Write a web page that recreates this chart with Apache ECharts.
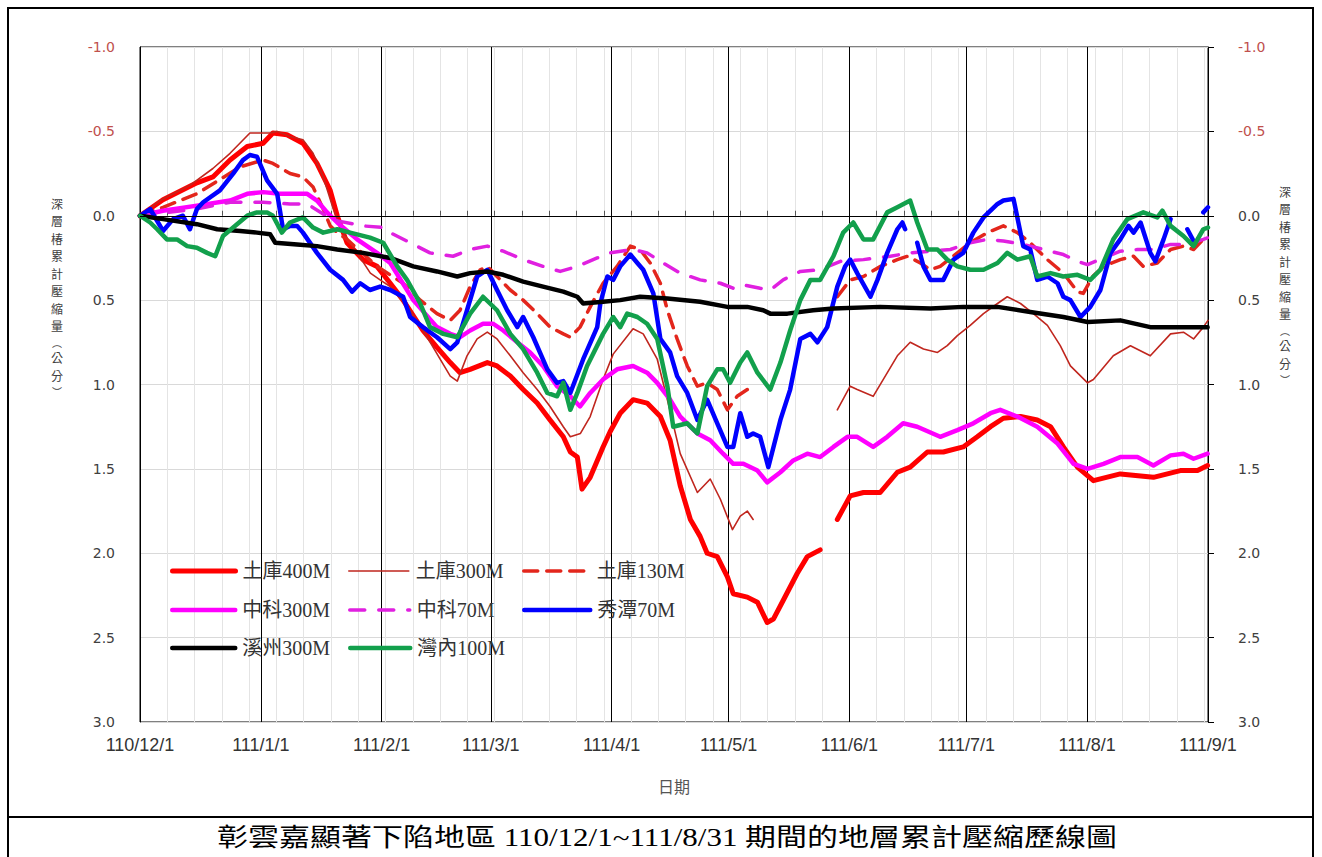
<!DOCTYPE html>
<html><head><meta charset="utf-8">
<script src="https://cdn.jsdelivr.net/npm/echarts@6/dist/echarts.min.js"></script>
<style>html,body{margin:0;padding:0;background:#fff}#c{width:1322px;height:857px}</style>
</head><body><div id="c"></div>
<script>
// ---------- DATA (day offset from 110/12/1 , compression cm; null = gap) ----------
const xTickLabels = ['110/12/1','111/1/1','111/2/1','111/3/1','111/4/1','111/5/1','111/6/1','111/7/1','111/8/1','111/9/1'];
const seriesNames = ['土庫400M','土庫300M','土庫130M','中科300M','中科70M','秀潭70M','溪州300M','灣內100M'];

const tuku400 = [[0,0],[5.9,-0.095],[14.6,-0.195],[18.7,-0.23],[23.1,-0.33],[27.5,-0.41],[31.6,-0.43],[34.1,-0.49],[37.7,-0.48],[41.8,-0.43],[45.4,-0.31],[48.8,-0.15],[50.6,0],[53.1,0.16],[57.2,0.26],[60.8,0.3],[64.2,0.4],[67.5,0.5],[72.6,0.68],[76.2,0.78],[79.6,0.87],[82.1,0.93],[84.7,0.91],[89.1,0.87],[91.6,0.89],[95,0.95],[98.3,1.03],[101.9,1.11],[105.2,1.21],[108.6,1.31],[110.4,1.4],[112.2,1.43],[113.4,1.62],[115.5,1.55],[118.8,1.37],[120.6,1.28],[123.2,1.17],[126.5,1.09],[130.1,1.11],[133.5,1.19],[136,1.33],[138.6,1.6],[141.2,1.8],[143.7,1.9],[145.5,2.0],[148.1,2.02],[150.7,2.14],[152.2,2.24],[155.8,2.26],[158.4,2.29],[160.9,2.41],[162.5,2.39],[165,2.28],[168.6,2.12],[171.2,2.02],[174.5,1.98],[176,null],[178.9,1.8],[182.2,1.66],[185.6,1.64],[189.9,1.64],[194.3,1.52],[197.6,1.49],[202,1.4],[206.1,1.4],[211.2,1.37],[214.8,1.31],[218.2,1.25],[221.5,1.2],[225.9,1.19],[230.2,1.21],[233.6,1.25],[236.9,1.37],[240.5,1.49],[244.6,1.57],[251.5,1.53],[260,1.55],[266.9,1.51],[271.3,1.51],[273.9,1.48]];

const tuku300 = [[0,0],[5.1,-0.09],[12.8,-0.18],[18.7,-0.28],[23.1,-0.37],[28.2,-0.49],[33.4,-0.49],[35.2,-0.5],[38.5,-0.47],[41.8,-0.45],[44.4,-0.37],[47,-0.23],[49.6,-0.04],[52.1,0.1],[55.7,0.22],[59.1,0.34],[61.6,0.38],[64.2,0.42],[69.3,0.56],[73.7,0.72],[77,0.85],[79.6,0.95],[81.4,0.98],[83.9,0.83],[86.5,0.73],[89.1,0.69],[91.6,0.73],[95,0.83],[98.3,0.93],[101.9,1.03],[105.2,1.13],[108.6,1.25],[110.4,1.31],[113,1.29],[115.5,1.19],[118.8,0.97],[121.4,0.82],[126.5,0.67],[129.1,0.7],[132.7,0.85],[135.3,1.09],[138.6,1.41],[143,1.64],[146.3,1.56],[148.9,1.68],[152,1.86],[154,1.78],[155.8,1.75],[157.3,1.8],[168,null],[178.9,1.15],[182.2,1.01],[184,1.03],[188.1,1.07],[190.7,0.97],[194.3,0.83],[197.6,0.75],[201,0.79],[204.6,0.81],[207.1,0.77],[209.7,0.71],[213,0.65],[216.4,0.58],[220,0.52],[222.5,0.48],[225.9,0.52],[229.2,0.58],[232.8,0.65],[236.1,0.77],[238.7,0.89],[243.1,0.99],[244.6,0.97],[249.7,0.83],[254.1,0.77],[259.2,0.83],[264.4,0.7],[267.7,0.69],[270.3,0.73],[272.8,0.66],[274,0.62]];

const tuku130 = [[0,0],[5.9,-0.05],[14.6,-0.13],[25.7,-0.29],[31.6,-0.33],[34.1,-0.31],[38.5,-0.25],[41.8,-0.23],[44.4,-0.17],[47,-0.04],[48.8,0.06],[50.6,0.1],[53.1,0.14],[60.8,0.3],[67.5,0.4],[71.9,0.5],[76.2,0.58],[79.6,0.62],[82.1,0.56],[84.7,0.42],[87.3,0.32],[89.1,0.3],[91.6,0.36],[95,0.44],[98.3,0.5],[101.9,0.58],[105.2,0.66],[108.6,0.7],[110.4,0.72],[112.9,0.66],[115.5,0.54],[118.8,0.4],[122.4,0.3],[125.8,0.18],[128.3,0.2],[130.9,0.28],[133.5,0.4],[135.3,0.56],[137.8,0.73],[140.4,0.89],[143,1.01],[145.5,0.99],[148.1,1.03],[150.7,1.15],[153.2,1.07],[155.8,1.03],[167,null],[178.9,0.48],[182.2,0.38],[185.6,0.36],[190,0.3],[194.3,0.26],[196.9,0.24],[200.2,0.28],[202.8,0.32],[205.3,0.3],[209.7,0.22],[213,0.16],[217.4,0.1],[221.5,0.06],[225.1,0.1],[228.4,0.16],[232.8,0.26],[236.9,0.34],[240.5,0.45],[242,0.46],[244.4,0.36],[247.2,0.3],[251.5,0.26],[254.9,0.24],[257.4,0.3],[261,0.28],[264.4,0.2],[267.7,0.18],[270.3,0.2],[273.6,0.12]];

const kexue300 = [[0,0],[5.9,-0.03],[14.6,-0.06],[23.1,-0.09],[27.5,-0.13],[31.6,-0.14],[35.9,-0.13],[42.9,-0.13],[45.4,-0.09],[48,-0.02],[50.6,0.04],[55.7,0.14],[60.8,0.22],[64.2,0.28],[70.1,0.5],[76.2,0.66],[79.6,0.7],[82.1,0.72],[84.7,0.68],[88,0.64],[90.6,0.64],[93.2,0.68],[96.8,0.75],[100.1,0.81],[103.4,0.89],[107,1.01],[110.4,1.07],[112.9,1.13],[115.5,1.05],[118.8,0.97],[122.4,0.91],[126.5,0.89],[130.1,0.93],[132.7,0.99],[136,1.09],[138.6,1.19],[143,1.29],[146.3,1.33],[149.6,1.41],[152.2,1.47],[154.8,1.47],[158.4,1.51],[160.9,1.58],[164.3,1.52],[167.6,1.45],[171.2,1.41],[174.5,1.43],[177.9,1.37],[181.5,1.31],[184,1.31],[188.1,1.37],[191.7,1.31],[195.8,1.23],[199.4,1.25],[205.3,1.31],[209.7,1.27],[213.8,1.23],[218.2,1.17],[220.7,1.15],[225.1,1.19],[230.2,1.25],[235.4,1.35],[239.5,1.47],[243.1,1.5],[247.2,1.47],[251.5,1.43],[255.9,1.43],[260,1.48],[264.4,1.42],[267.7,1.41],[270.3,1.44],[273.9,1.41]];

const kexue70 = [[0,0],[14.6,-0.04],[23.1,-0.08],[31.6,-0.08],[38.5,-0.07],[42.9,-0.07],[47,-0.01],[50.6,0.03],[57.2,0.06],[62.4,0.07],[64.2,0.1],[69.3,0.16],[74.4,0.22],[80.3,0.24],[84.7,0.2],[89.1,0.18],[93.2,0.21],[98.3,0.26],[103.4,0.3],[107.8,0.33],[112.2,0.3],[117.3,0.25],[120.6,0.22],[126.5,0.2],[130.1,0.22],[133.5,0.27],[138.6,0.34],[143.7,0.38],[148.9,0.4],[152.2,0.43],[154.8,0.41],[159.1,0.43],[161.7,0.44],[165,0.38],[169.4,0.33],[174.5,0.32],[179.7,0.27],[185.6,0.26],[192.5,0.24],[197.6,0.22],[202.8,0.21],[207.9,0.2],[213,0.16],[217.4,0.14],[221.5,0.15],[226.6,0.17],[231.8,0.2],[236.9,0.23],[240.5,0.27],[243.1,0.29],[247.2,0.25],[251.5,0.21],[255.9,0.2],[260,0.2],[264.4,0.17],[268.7,0.17],[272.8,0.14],[274,0.13]];

const xiutan70 = [[0,0],[2.6,-0.04],[5.9,0.09],[8.5,0.02],[11,0],[12.8,0.08],[14.6,-0.04],[16.2,-0.08],[20.5,-0.15],[23.9,-0.25],[26.4,-0.33],[28.2,-0.36],[30,-0.35],[32.6,-0.21],[35.2,-0.13],[36.7,0.08],[38.5,0.06],[40.3,0.06],[41.8,0.1],[45.4,0.22],[48.8,0.32],[52.1,0.38],[54.4,0.45],[56.5,0.4],[59,0.44],[61.6,0.42],[64.2,0.44],[67.5,0.48],[69.3,0.6],[72.6,0.66],[76.2,0.72],[79.6,0.79],[81.4,0.75],[83.9,0.56],[86.5,0.36],[89.1,0.32],[91.6,0.44],[94.2,0.56],[96.8,0.66],[98.3,0.6],[100.9,0.72],[104.5,0.91],[107,0.99],[108.6,0.98],[110.4,1.05],[113.7,0.85],[117.3,0.66],[118.1,0.52],[119.9,0.36],[121.4,0.38],[123.2,0.3],[125.8,0.23],[127.6,0.28],[129.1,0.32],[131.7,0.46],[133.5,0.73],[136,0.81],[137.8,0.95],[140.4,1.05],[143,1.21],[145.5,1.09],[148.1,1.23],[150.7,1.37],[152.2,1.37],[154,1.17],[155.8,1.31],[157.3,1.29],[159.1,1.31],[161.2,1.49],[164.3,1.21],[166.8,1.03],[169.4,0.73],[172,0.7],[173.8,0.75],[176.3,0.66],[178.9,0.42],[180.9,0.3],[182.2,0.26],[184,0.34],[187.4,0.48],[189.2,0.38],[191.7,0.22],[194.3,0.08],[195.6,0.04],[196.3,0.08],[198,null],[199.4,0.16],[201,0.3],[202.8,0.38],[206.1,0.38],[208.7,0.26],[211.2,0.22],[213.8,0.1],[216.4,0.01],[220,-0.07],[221.5,-0.09],[224.1,-0.1],[226.6,0.18],[228.4,0.2],[230.2,0.38],[232.8,0.36],[235.4,0.4],[236.9,0.48],[238.7,0.5],[241.3,0.6],[243.8,0.54],[246.4,0.44],[249,0.22],[251.5,0.14],[253.6,0.06],[254.9,0.1],[256.7,0.04],[259.2,0.22],[260.5,0.27],[262.6,0.14],[264.4,0.02],[266,null],[268.7,0.08],[270.3,0.15],[271.5,null],[272.8,-0.02],[274,-0.05]];

const xizhou300 = [[0,0],[5.9,0.02],[14.6,0.05],[19.8,0.08],[25.7,0.09],[30,0.1],[33.4,0.11],[34.7,0.16],[40.3,0.17],[45.4,0.18],[50.6,0.2],[57.2,0.22],[64.2,0.25],[70.1,0.3],[76.2,0.33],[81.4,0.36],[84.7,0.34],[89.1,0.33],[93.2,0.35],[98.3,0.39],[103.4,0.42],[108.6,0.45],[112.2,0.48],[113.7,0.52],[118.8,0.51],[123.2,0.5],[128.3,0.48],[135.3,0.49],[143.7,0.51],[150.7,0.54],[155.8,0.54],[159.9,0.56],[161.7,0.58],[166.1,0.58],[172.7,0.56],[177.9,0.55],[189.9,0.54],[202.8,0.55],[211.2,0.54],[220,0.54],[228.4,0.57],[236.9,0.6],[243.1,0.63],[251.5,0.62],[259.2,0.66],[264.4,0.66],[273.9,0.66]];

const wannei100 = [[0,0],[2.6,0.04],[4.4,0.08],[6.9,0.14],[9.5,0.14],[12.1,0.18],[14.6,0.19],[17.2,0.22],[19.3,0.24],[21.3,0.12],[23.9,0.07],[27.5,0],[30,-0.02],[32.6,-0.02],[34.1,0],[36.4,0.1],[38.5,0.04],[41.8,0.01],[44.4,0.07],[47,0.1],[50.6,0.08],[53.9,0.1],[59,0.13],[62.4,0.16],[66,0.3],[68.5,0.38],[71.9,0.52],[74.4,0.66],[77.8,0.7],[81.4,0.72],[84.7,0.58],[88,0.48],[91.6,0.56],[95,0.7],[98.3,0.79],[101.9,0.93],[104.5,1.05],[107,1.07],[108.6,0.99],[110.4,1.15],[112.2,1.05],[114.7,0.89],[118.8,0.7],[121.4,0.6],[123.2,0.66],[125,0.58],[127.6,0.6],[130.1,0.64],[132.7,0.73],[135.3,1.01],[136.8,1.25],[140.4,1.23],[143,1.29],[145.5,1.01],[148.1,0.91],[149.6,0.91],[151.4,0.99],[154,0.87],[155.8,0.81],[158.4,0.93],[161.7,1.03],[164.3,0.87],[166.8,0.68],[169.4,0.5],[172,0.38],[174.5,0.38],[177.9,0.24],[180.4,0.1],[183,0.04],[185.6,0.14],[188.1,0.14],[191.7,-0.02],[194.3,-0.05],[197.6,-0.09],[199.4,0.04],[202,0.2],[204.6,0.2],[207.1,0.26],[209.7,0.3],[213,0.32],[216.4,0.32],[220,0.28],[222.5,0.22],[225.1,0.26],[228.4,0.24],[230.2,0.36],[233.6,0.34],[236.9,0.36],[240.5,0.35],[243.8,0.38],[246.4,0.32],[249.7,0.14],[253.3,0.02],[257.4,-0.02],[261,0.01],[262.3,-0.03],[264.4,0.06],[267.7,0.12],[270.3,0.18],[272.8,0.08],[274,0.07]];

// ---------- STYLE ----------
const seriesData = [tuku400, tuku300, tuku130, kexue300, kexue70, xiutan70, xizhou300, wannei100];
const seriesColors = ['#FF0000','#C0261E','#E3261C','#FF00FF','#E020E0','#0000FF','#000000','#12A04C'];
const seriesWidths = [5, 1.6, 3.5, 4.5, 3.5, 4.5, 4.5, 4.5];
const seriesDash = ['solid','solid',[14,9],'solid',[15,14],'solid','solid','solid'];
const legendPos = [[170,561],[348,561],[522,561],[170,600],[348,600],[522,600],[170,638],[348,638]];
const legendIconW = [63,60,66,63,60,66,63,60];

const DAY = 86400000;
const BASE = new Date(2021, 11, 1).getTime();
const TOTAL_DAYS = 274;
const toTime = (arr) => arr.map(p => [BASE + p[0] * DAY, p[1]]);

const serifFont = "'Liberation Serif','Noto Sans CJK TC',serif";
const cjkFont = "'Noto Sans CJK TC','Liberation Sans',sans-serif";

const chart = echarts.init(document.getElementById('c'), null, {renderer: 'svg'});

const series = seriesNames.map((n, i) => ({
  name: n, type: 'line', xAxisIndex: 0, yAxisIndex: 0,
  data: toTime(seriesData[i]),
  symbol: 'none', showSymbol: false, smooth: false, connectNulls: false,
  lineStyle: {color: seriesColors[i], width: seriesWidths[i], type: seriesDash[i], cap: 'round', join: 'round'},
  itemStyle: {color: seriesColors[i]},
  emphasis: {disabled: true},
  z: 3
}));
series.unshift({
  name: 'zero', type: 'line', data: [], z: 1, silent: true,
  markLine: {silent: true, symbol: 'none', animation: false, label: {show: false},
    lineStyle: {color: '#000', width: 1, type: 'solid'}, data: [{yAxis: 0}]}
});

const legends = seriesNames.map((n, i) => ({
  show: true, left: legendPos[i][0], top: legendPos[i][1], padding: 0,
  itemWidth: legendIconW[i], itemHeight: 14, itemGap: 0, selectedMode: false,
  data: [n],
  itemStyle: {opacity: 0, borderWidth: 0},
  textStyle: {fontFamily: serifFont, fontSize: 20, color: '#333', padding: [0,0,0,2]},
  lineStyle: {width: seriesWidths[i], type: seriesDash[i]}
}));

const yLabel = {
  fontFamily: "'DejaVu Sans',sans-serif", fontSize: 14,
  formatter: v => (v < 0 ? '{r|' : '{n|') + v.toFixed(1) + '}',
  rich: {r: {color: '#C0504D', fontFamily: "'DejaVu Sans',sans-serif", fontSize: 14},
         n: {color: '#404040', fontFamily: "'DejaVu Sans',sans-serif", fontSize: 14}}
};

// vertical axis title: glyph, font size, vertical step to next glyph
const vNameParts = [['深',12,17.5],['層',12,17.5],['椿',12,17.5],['累',12,17.5],['計',12,17.5],['壓',12,17.5],['縮',12,17.5],['量',12,17.5],['︵',10,14.6],['公',12,17.5],['分',12,17.5],['︶',10,14.6]];
const vNameGraphics = (cx, top) => {
  let y = top;
  return vNameParts.map(([ch, fs, step]) => {
    const g = {type: 'text', silent: true, x: cx, y: y,
      style: {text: ch, fontFamily: cjkFont, fontSize: fs, fill: '#404040', align: 'center', verticalAlign: 'top'}};
    y += step;
    return g;
  });
};

chart.setOption({
  animation: false,
  backgroundColor: '#fff',
  grid: {left: 140, top: 47, right: 114, bottom: 135, show: true, borderColor: '#000', borderWidth: 1, containLabel: false},
  legend: legends,
  xAxis: [{
    type: 'time', position: 'bottom', z: 2,
    min: BASE, max: BASE + TOTAL_DAYS * DAY,
    minInterval: 28 * DAY, maxInterval: 31 * DAY,
    axisLine: {show: true, lineStyle: {color: '#000', width: 1}},
    axisTick: {show: true, length: 6, lineStyle: {color: '#000'}},
    splitLine: {show: true, lineStyle: {color: '#000', width: 1}},
    axisLabel: {
      margin: 14, fontFamily: "'Liberation Sans',sans-serif", fontSize: 18, color: '#333',
      showMinLabel: true, showMaxLabel: true, hideOverlap: false,
      formatter: (val) => {
        const d = new Date(val);
        const idx = (d.getFullYear() - 2021) * 12 + d.getMonth() - 11;
        return xTickLabels[idx] || '';
      }
    },
    name: '日期', nameLocation: 'middle', nameGap: 56,
    nameTextStyle: {fontFamily: cjkFont, fontSize: 16, color: '#555'}
  }, {
    type: 'value', position: 'bottom', z: 0,
    min: 0, max: TOTAL_DAYS, interval: 7,
    axisLine: {show: false}, axisLabel: {show: false},
    axisTick: {show: true, inside: true, length: 5, lineStyle: {color: '#555'}},
    splitLine: {show: true, lineStyle: {color: '#e4e4e4', width: 1}}
  }],
  yAxis: [{
    type: 'value', position: 'left', inverse: true, min: -1, max: 3, interval: 0.5,
    axisLine: {show: true, lineStyle: {color: '#000'}},
    axisTick: {show: false},
    splitLine: {show: true, lineStyle: {color: '#d9d9d9', width: 1}},
    axisLabel: Object.assign({margin: 25}, yLabel)
  }, {
    type: 'value', position: 'right', inverse: true, min: -1, max: 3, interval: 0.5,
    axisLine: {show: true, lineStyle: {color: '#000'}},
    axisTick: {show: true, length: 6, lineStyle: {color: '#000'}},
    splitLine: {show: false},
    axisLabel: Object.assign({margin: 30}, yLabel)
  }],
  graphic: [
    {type: 'rect', silent: true, z: -10, shape: {x: 8, y: 8, width: 1305, height: 870},
     style: {fill: 'none', stroke: '#000', lineWidth: 2}},
    {type: 'line', silent: true, z: -10, shape: {x1: 8, y1: 817, x2: 1313, y2: 817},
     style: {stroke: '#000', lineWidth: 2}},
    {type: 'text', silent: true, x: 667, y: 838, scaleX: 1.24, scaleY: 1,
     style: {text: '彰雲嘉顯著下陷地區 110/12/1~111/8/31 期間的地層累計壓縮歷線圖', fontFamily: serifFont, fontSize: 25, fill: '#000', align: 'center', verticalAlign: 'middle'}}
  ].concat(vNameGraphics(57, 197), vNameGraphics(1285, 185)),
  series: series
});
</script>
</body></html>
